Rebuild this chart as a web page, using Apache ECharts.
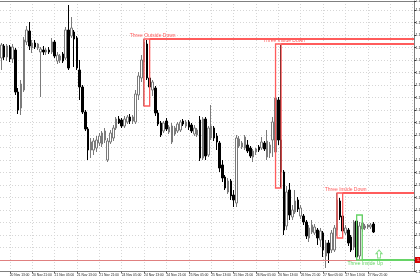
<!DOCTYPE html>
<html><head><meta charset="utf-8">
<script src="https://cdn.jsdelivr.net/npm/echarts@6/dist/echarts.min.js"></script>
<style>html,body{margin:0;padding:0;background:#fff}#c{width:420px;height:280px}</style>
</head><body><div id="c"></div>
<script>
// ---- time categories (hourly bars, weekend skipped) ----
const dayList = ['20 Nov', '21 Nov', '24 Nov', '25 Nov', '26 Nov', '27 Nov', '28 Nov'];
const firstHour = 10;     // first bar: 20 Nov 10:00
const futureSlots = 14;   // empty chart-shift area on the right (28 Nov)
const categories = [];
dayList.forEach((d, di) => {
  const h0 = di === 0 ? firstHour : 0;
  const h1 = di === dayList.length - 1 ? futureSlots - 1 : 23;
  for (let h = h0; h <= h1; h++) categories.push(d + ' ' + (h < 10 ? '0' : '') + h + ':00');
});

// ---- OHLC values ----
const opens = [
1.15808,1.15856,1.15812,1.15852,1.15804,1.15840,1.15672,1.15608,1.15680,1.15872,
1.15916,1.15848,1.15868,1.15848,1.15832,1.15840,1.15832,1.15840,1.15832,1.15872,
1.15796,1.15800,1.15824,1.15808,1.15920,1.15896,1.15912,1.15888,1.15760,1.15692,
1.15592,1.15524,1.15440,1.15440,1.15448,1.15468,1.15464,1.15480,1.15400,1.15472,
1.15488,1.15528,1.15564,1.15560,1.15536,1.15552,1.15572,1.15556,1.15552,1.15660,
1.15728,1.15792,1.15864,1.15728,1.15680,1.15688,1.15588,1.15548,1.15516,1.15556,
1.15512,1.15472,1.15504,1.15516,1.15520,1.15556,1.15536,1.15552,1.15540,1.15504,
1.15500,1.15560,1.15408,1.15564,1.15420,1.15488,1.15528,1.15496,1.15468,1.15380,
1.15332,1.15272,1.15316,1.15260,1.15228,1.15456,1.15452,1.15448,1.15460,1.15448,
1.15412,1.15432,1.15452,1.15448,1.15468,1.15412,1.15428,1.15480,1.15432,1.15640,
1.15480,1.15352,1.15136,1.15280,1.15172,1.15192,1.15240,1.15176,1.15176,1.15152,
1.15088,1.15112,1.15108,1.15120,1.15080,1.15108,1.15016,1.15068,1.15040,1.15040,
1.15120,1.15236,1.15176,1.15108,1.15120,1.15092,1.15052,1.15156,1.15016,1.15124,
1.15128,1.15132,1.15132,1.15144];
const closes = [
1.15860,1.15812,1.15856,1.15804,1.15852,1.15672,1.15600,1.15704,1.15880,1.15920,
1.15856,1.15868,1.15852,1.15864,1.15844,1.15832,1.15840,1.15832,1.15872,1.15816,
1.15820,1.15816,1.15796,1.15920,1.15768,1.15928,1.15884,1.15768,1.15692,1.15592,
1.15524,1.15440,1.15472,1.15476,1.15480,1.15496,1.15508,1.15516,1.15476,1.15508,
1.15528,1.15564,1.15548,1.15536,1.15564,1.15572,1.15556,1.15572,1.15664,1.15736,
1.15800,1.15872,1.15728,1.15692,1.15712,1.15588,1.15544,1.15500,1.15548,1.15524,
1.15532,1.15536,1.15528,1.15544,1.15552,1.15544,1.15552,1.15532,1.15516,1.15528,
1.15520,1.15408,1.15564,1.15416,1.15528,1.15536,1.15488,1.15472,1.15368,1.15328,
1.15288,1.15316,1.15256,1.15240,1.15488,1.15484,1.15468,1.15492,1.15436,1.15416,
1.15436,1.15444,1.15440,1.15472,1.15444,1.15476,1.15460,1.15552,1.15648,1.15480,
1.15352,1.15120,1.15272,1.15180,1.15200,1.15236,1.15204,1.15208,1.15152,1.15096,
1.15128,1.15140,1.15132,1.15088,1.15116,1.15040,1.15068,1.15028,1.15108,1.15128,
1.15240,1.15172,1.15116,1.15128,1.15068,1.15040,1.15152,1.15012,1.15136,1.15148,
1.15136,1.15140,1.15140,1.15112];
const lows = [
1.15760,1.15800,1.15796,1.15792,1.15788,1.15660,1.15584,1.15580,1.15672,1.15860,
1.15840,1.15828,1.15844,1.15840,1.15652,1.15820,1.15820,1.15824,1.15824,1.15808,
1.15784,1.15788,1.15788,1.15800,1.15760,1.15888,1.15772,1.15760,1.15640,1.15584,
1.15516,1.15400,1.15408,1.15420,1.15432,1.15456,1.15452,1.15468,1.15392,1.15464,
1.15476,1.15520,1.15544,1.15528,1.15528,1.15544,1.15544,1.15544,1.15544,1.15640,
1.15712,1.15616,1.15720,1.15680,1.15656,1.15576,1.15536,1.15492,1.15508,1.15516,
1.15504,1.15464,1.15496,1.15508,1.15512,1.15536,1.15528,1.15520,1.15508,1.15496,
1.15492,1.15396,1.15400,1.15400,1.15412,1.15480,1.15476,1.15440,1.15352,1.15312,
1.15280,1.15264,1.15240,1.15212,1.15212,1.15448,1.15444,1.15440,1.15428,1.15408,
1.15392,1.15420,1.15432,1.15440,1.15436,1.15400,1.15408,1.15412,1.15424,1.15460,
1.15288,1.15100,1.15120,1.15160,1.15160,1.15184,1.15192,1.15164,1.15140,1.15084,
1.15072,1.15104,1.15100,1.15060,1.15052,1.15012,1.14968,1.14988,1.15028,1.15032,
1.15096,1.15160,1.15088,1.15100,1.15056,1.15032,1.15040,1.15000,1.15004,1.15112,
1.15120,1.15124,1.15124,1.15108];
const highs = [
1.15868,1.15864,1.15864,1.15860,1.15864,1.15848,1.15688,1.15720,1.15892,1.15936,
1.15952,1.15880,1.15880,1.15868,1.15852,1.15856,1.15848,1.15852,1.15888,1.15880,
1.15832,1.15824,1.15832,1.15932,1.16020,1.15972,1.15920,1.15896,1.15800,1.15700,
1.15600,1.15532,1.15488,1.15488,1.15496,1.15508,1.15516,1.15528,1.15488,1.15520,
1.15540,1.15572,1.15576,1.15568,1.15576,1.15580,1.15584,1.15580,1.15680,1.15752,
1.15820,1.15884,1.15880,1.15760,1.15720,1.15696,1.15600,1.15556,1.15556,1.15568,
1.15540,1.15548,1.15536,1.15552,1.15560,1.15564,1.15560,1.15560,1.15548,1.15540,
1.15528,1.15576,1.15572,1.15572,1.15536,1.15620,1.15536,1.15508,1.15476,1.15400,
1.15340,1.15328,1.15324,1.15280,1.15500,1.15496,1.15476,1.15500,1.15480,1.15456,
1.15444,1.15448,1.15460,1.15492,1.15476,1.15520,1.15472,1.15572,1.15660,1.15652,
1.15860,1.15360,1.15296,1.15308,1.15220,1.15280,1.15252,1.15220,1.15184,1.15160,
1.15140,1.15160,1.15144,1.15128,1.15128,1.15116,1.15080,1.15080,1.15120,1.15140,
1.15268,1.15248,1.15192,1.15140,1.15128,1.15100,1.15160,1.15164,1.15152,1.15180,
1.15144,1.15144,1.15148,1.15152];

// ---- candle pattern annotations ----
const patName  = ['Three Outside Down', 'Three Inside Down', 'Three Inside Down', 'Three Inside Up'];
const patDir   = ['down', 'down', 'down', 'up'];
const patStart = [51, 98, 120, 127];
const patEnd   = [53, 100, 122, 129];
const patHigh  = [1.15884, 1.15864, 1.15268, 1.15180];
const patLow   = [1.15616, 1.15288, 1.15088, 1.15000];
const arrowAt  = [135, 1.15024];

// ---- price axis range ----
const axisMin = 1.14954, axisMax = 1.16036;

const nBars = opens.length;
const ohlc = opens.map((o, i) => [o, closes[i], lows[i], highs[i]]);
const lastPrice = closes[nBars - 1];
const RED = '#ff5c5c', GREEN = '#66d466', FONT = 'Liberation Sans';
const gridLine = {color: '#d6d6d6', type: [1, 2], width: 1};

const chart = echarts.init(document.getElementById('c'), null, {renderer: 'canvas', devicePixelRatio: 1});
chart.setOption({
  animation: false,
  backgroundColor: '#ffffff',
  grid: {left: 0, right: 6, top: 1, bottom: 8.5, containLabel: false, outerBoundsMode: 'none'},
  xAxis: [{
    type: 'category', data: categories, boundaryGap: true,
    axisLine: {show: true, lineStyle: {color: '#808080', width: 1}},
    axisTick: {show: true, alignWithLabel: true, length: 2, interval: (i) => i % 8 === 3 && i < nBars, lineStyle: {color: '#606060'}},
    axisLabel: {show: true, interval: (i) => i % 8 === 3 && i < nBars, align: 'left', margin: 1.8,
      fontSize: 3.3, fontFamily: FONT, color: '#222', hideOverlap: false},
    splitLine: {show: true, alignWithLabel: true, interval: (i) => i % 8 === 3, lineStyle: gridLine}
  }, {
    type: 'category', data: categories, position: 'top',
    axisLine: {show: true, lineStyle: {color: '#808080', width: 1}},
    axisTick: {show: false}, axisLabel: {show: false}, splitLine: {show: false}
  }],
  yAxis: {
    type: 'value', position: 'right', min: axisMin, max: axisMax, splitNumber: 20,
    axisLine: {show: true, lineStyle: {color: '#808080', width: 1}},
    axisTick: {show: true, length: 2, lineStyle: {color: '#404040'}},
    axisLabel: {fontSize: 3.6, fontFamily: FONT, margin: 1.5, color: '#222', formatter: (v) => v.toFixed(5)},
    splitLine: {show: true, lineStyle: gridLine}
  },
  series: [{
    type: 'candlestick', data: ohlc, barWidth: 2,
    itemStyle: {color: '#ffffff', color0: '#000000', borderColor: '#7a7a7a', borderColor0: '#000000', borderWidth: 1},
    markLine: {
      symbol: 'none', silent: true, animation: false,
      data: [{yAxis: lastPrice}],
      lineStyle: {color: '#e08080', width: 1, type: 'solid'},
      label: {show: true, position: 'end', distance: 1, formatter: () => lastPrice.toFixed(5),
        backgroundColor: '#d80000', color: '#fff', fontSize: 3.6, padding: [1, 2]}
    }
  }, {
    type: 'custom', clip: false, z: 5,
    data: patStart.map((s, k) => [s, patEnd[k], patHigh[k], patLow[k], k]),
    encode: {x: [0, 1], y: [2, 3]},
    renderItem: (params, api) => {
      const k = api.value(4);
      const p1 = api.coord([api.value(0), api.value(2)]);
      const p2 = api.coord([api.value(1), api.value(3)]);
      const cs = params.coordSys;
      const right = cs.x + cs.width;
      const up = patDir[k] === 'up';
      const col = up ? GREEN : RED;
      const ly = up ? p2[1] : p1[1];
      return {type: 'group', children: [
        {type: 'rect', shape: {x: p1[0], y: p1[1], width: p2[0] - p1[0], height: p2[1] - p1[1]},
          style: {fill: 'none', stroke: col, lineWidth: 1.3}},
        {type: 'line', shape: {x1: p2[0], y1: ly, x2: right, y2: ly}, style: {stroke: col, lineWidth: 1.8}},
        {type: 'text', style: {text: patName[k], x: p2[0] + 3, y: up ? ly + 1 : ly - 0.5,
          align: 'center', verticalAlign: up ? 'top' : 'bottom', fill: col, font: '5px ' + FONT}}
      ]};
    }
  }, {
    type: 'scatter', z: 6, data: [arrowAt],
    symbol: 'path://M4,0 L8,4 L6,4 L6,9 L2,9 L2,4 L0,4 Z', symbolSize: [6, 8],
    itemStyle: {color: '#ffffff', borderColor: GREEN, borderWidth: 1}
  }]
});
</script>
</body></html>
